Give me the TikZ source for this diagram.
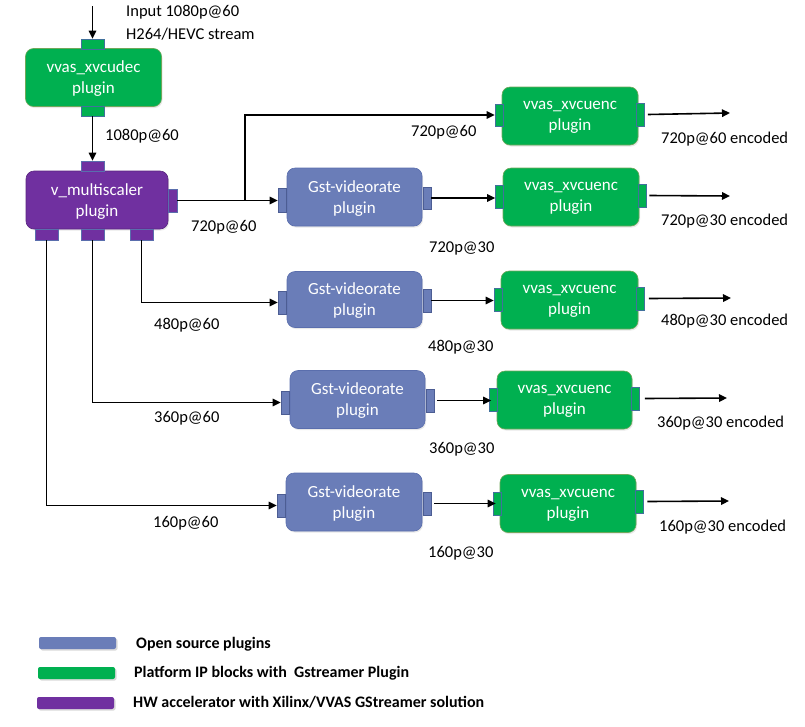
\documentclass[tikz,border=0pt]{standalone}
\usepackage{fontspec}
\setmainfont{Carlito}
\usetikzlibrary{arrows.meta,shadows}
\definecolor{gbox}{HTML}{00B050}
\definecolor{gline}{HTML}{6FA85A}
\definecolor{pbox}{HTML}{7030A0}
\definecolor{bbox}{HTML}{6A7DB8}
\definecolor{bline}{HTML}{5A6EAD}
\definecolor{portline}{HTML}{41719C}
\begin{document}
\begin{tikzpicture}[x=1pt,y=-1pt,
  plug/.style={rounded corners=8pt, inner sep=0pt, text=white, align=center,
    font=\fontsize{17}{21}\selectfont, text depth=0pt, minimum height=58pt, minimum width=136pt,
    drop shadow={opacity=0.18, shadow xshift=1pt, shadow yshift=-1.5pt}},
  greenbox/.style={plug, fill=gbox, draw=gline, line width=0.6pt},
  purplebox/.style={plug, fill=pbox, draw=pbox!80!black, line width=0.6pt},
  bluebox/.style={plug, fill=bbox, draw=bline, line width=0.6pt},
  port/.style={rectangle, inner sep=0pt, line width=0.6pt, draw=portline},
  gport/.style={port, fill=gbox},
  bport/.style={port, fill=bbox, draw=bline!85!black},
  pport/.style={port, fill=pbox, draw=bline},
  hport/.style={minimum width=23pt, minimum height=10pt},
  vport/.style={minimum width=8pt, minimum height=23pt},
  lbl/.style={anchor=west, inner sep=0pt, font=\fontsize{16.5}{19}\selectfont},
  flow/.style={line width=1.6pt, -{Triangle[length=8pt,width=7.5pt]}},
  legbar/.style={rounded corners=2pt, minimum width=77pt, minimum height=12pt, inner sep=0pt,
    drop shadow={opacity=0.3, shadow xshift=1.5pt, shadow yshift=-1.5pt}},
  legtxt/.style={anchor=west, inner sep=0pt, font=\fontsize{16}{18}\bfseries\selectfont}
]
\useasboundingbox (0,0) rectangle (805,726);

% main boxes
\node[greenbox] (dec) at (93.5,77.5) {vvas\_xvcudec\\plugin};
\node[purplebox, minimum width=142pt] (ms) at (97,200) {v\_multiscaler\\plugin};
\node[bluebox, minimum width=135pt] (g1) at (354.5,197) {Gst-videorate\\plugin};
\node[bluebox, minimum width=135pt, minimum height=56pt] (g2) at (354.5,299.5) {Gst-videorate\\plugin};
\node[bluebox, minimum width=135pt] (g3) at (357.5,399.5) {Gst-videorate\\plugin};
\node[bluebox] (g4) at (354,502) {Gst-videorate\\plugin};
\node[greenbox] (e1) at (570,116) {vvas\_xvcuenc\\plugin};
\node[greenbox] (e2) at (571,197) {vvas\_xvcuenc\\plugin};
\node[greenbox, minimum width=137pt] (e3) at (569.5,300) {vvas\_xvcuenc\\plugin};
\node[greenbox, minimum width=135pt] (e4) at (564.5,400) {vvas\_xvcuenc\\plugin};
\node[greenbox] (e5) at (568,503.5) {vvas\_xvcuenc\\plugin};

% ports
\node[gport, hport] (decin) at (92.5,44) {};
\node[gport, hport] (decout) at (92.5,111) {};
\node[pport, hport] (msin) at (92.5,166) {};
\node[pport, minimum width=9pt, minimum height=23pt] (msr) at (172.5,200.5) {};
\node[pport, hport, minimum height=11pt] (msb1) at (46.5,234.5) {};
\node[pport, hport, minimum height=11pt] (msb2) at (92.5,234.5) {};
\node[pport, hport, minimum height=11pt] (msb3) at (141.5,234.5) {};

\node[bport, vport, minimum height=24pt] (g1l) at (282,200) {};
\node[bport, vport, minimum height=22pt] (g1r) at (427,198) {};
\node[bport, vport] (g2l) at (282,302.5) {};
\node[bport, vport] (g2r) at (427,300.5) {};
\node[bport, vport] (g3l) at (285,402.5) {};
\node[bport, vport] (g3r) at (430.5,400.5) {};
\node[bport, vport] (g4l) at (281,505.5) {};
\node[bport, vport] (g4r) at (427,503.5) {};

\node[gport, vport, minimum height=22pt] (e1l) at (499,115) {};
\node[gport, vport] (e1r) at (640.5,114.5) {};
\node[gport, vport] (e2l) at (499.5,196.5) {};
\node[gport, vport] (e2r) at (642,195.5) {};
\node[gport, vport] (e3l) at (498,299.5) {};
\node[gport, vport] (e3r) at (640.5,298.5) {};
\node[gport, vport] (e4l) at (493.5,399.5) {};
\node[gport, vport] (e4r) at (635.5,398.5) {};
\node[gport, vport] (e5l) at (497,503.5) {};
\node[gport, vport] (e5r) at (639,501.5) {};

% free ends
\coordinate (src) at (92.5,6);
\coordinate (br) at (245,200.5);
\coordinate (o1) at (730,113);
\coordinate (o2) at (730,196);
\coordinate (o3) at (731,298);
\coordinate (o4) at (727,398);
\coordinate (o5) at (729,501);

% connectors
\draw[flow] (src) -- (decin.north);
\draw[flow] (decout.south) -- (msin.north);
\draw[flow] (msr.east) -- (msr.east -| g1l.west);
\draw[flow] (br) |- (e1l.west);
\draw[flow] (g1r.east) -- (g1r.east -| e2l.west);
\draw[flow] (msb3.south) |- (g2l.west);
\draw[flow] (msb2.south) |- (g3l.west);
\draw[flow] (msb1.south) |- (g4l.west);
\draw[flow] (g2r.east) -- (g2r.east -| e3l.west);
\draw[flow] ([xshift=2pt]g3r.east) -- ([xshift=2pt]g3r.east -| e4l.west);
\draw[flow] ([xshift=3pt]g4r.east) -- ([xshift=3pt]g4r.east -| e5l.west);
\draw[flow] ([xshift=3pt]e1r.east) -- (o1);
\draw[flow] ([xshift=3pt]e2r.east) -- (o2);
\draw[flow] ([xshift=4pt]e3r.east) -- (o3);
\draw[flow] ([xshift=5pt]e4r.east) -- (o4);
\draw[flow] ([xshift=4pt]e5r.east) -- (o5);

% labels
\node[lbl] (tin1) at (126,12) {Input 1080p@60};
\node[lbl] (tin2) at (126,34) {H264/HEVC stream};
\node[lbl] (t1080) at (105,136) {1080p@60};
\node[lbl] (t720a) at (191,227) {720p@60};
\node[lbl] (t720b) at (411,132) {720p@60};
\node[lbl] (t720c) at (429,248) {720p@30};
\node[lbl] (t480a) at (154,325) {480p@60};
\node[lbl] (t480b) at (428,347) {480p@30};
\node[lbl] (t360a) at (154,418) {360p@60};
\node[lbl] (t360b) at (429,449) {360p@30};
\node[lbl] (t160a) at (153,523) {160p@60};
\node[lbl] (t160b) at (428,553) {160p@30};
\node[lbl] (te1) at (661,139) {720p@60 encoded};
\node[lbl] (te2) at (661,221) {720p@30 encoded};
\node[lbl] (te3) at (661,321) {480p@30 encoded};
\node[lbl] (te4) at (657,423) {360p@30 encoded};
\node[lbl] (te5) at (659,527) {160p@30 encoded};

% legend
\node[legbar, fill=bbox] (lb1) at (77.5,643) {};
\node[legbar, fill=gbox] (lb2) at (76.5,673) {};
\node[legbar, fill=pbox] (lb3) at (75.5,703) {};
\node[legtxt] (lt1) at (136,644) {Open source plugins};
\node[legtxt] (lt2) at (134,673) {Platform IP blocks with \ Gstreamer Plugin};
\node[legtxt] (lt3) at (133,702) {HW accelerator with Xilinx/VVAS GStreamer solution};
\end{tikzpicture}
\end{document}
